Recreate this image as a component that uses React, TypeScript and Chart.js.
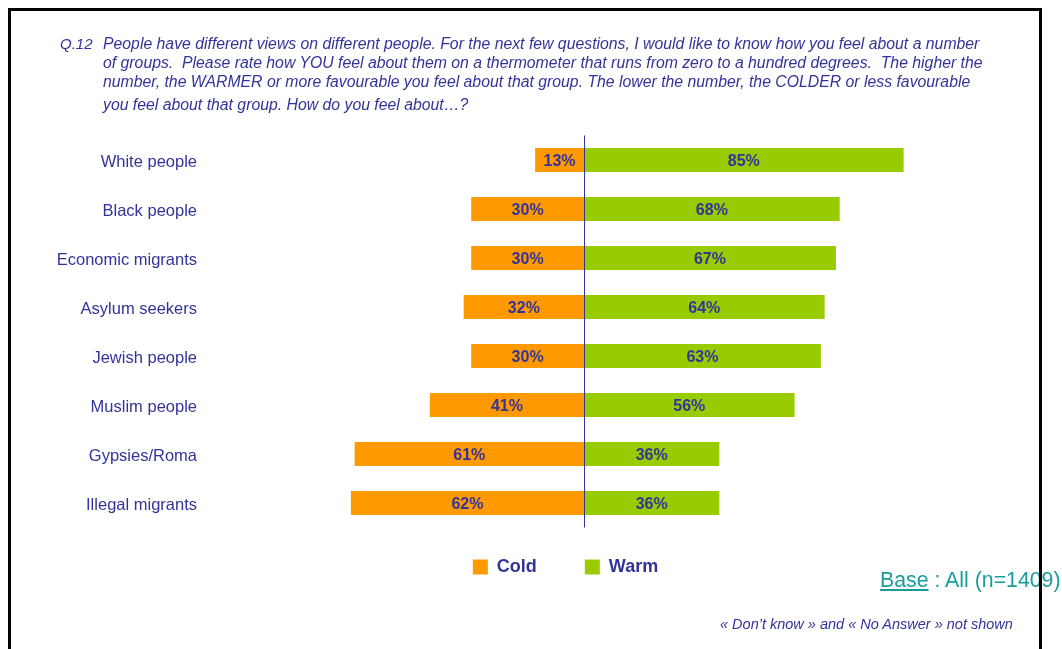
import React, { useEffect, useRef } from "react";
import { Chart, registerables } from "chart.js";

Chart.register(...registerables);

const categories = [
  "White people",
  "Black people",
  "Economic migrants",
  "Asylum seekers",
  "Jewish people",
  "Muslim people",
  "Gypsies/Roma",
  "Illegal migrants",
];
const coldValues = [13, 30, 30, 32, 30, 41, 61, 62];
const warmValues = [85, 68, 67, 64, 63, 56, 36, 36];
const seriesNames = ["Cold", "Warm"];
const questionLabel = "Q.12";
const titleLines = [
  "People have different views on different people. For the next few questions, I would like to know how you feel about a number",
  "of groups.  Please rate how YOU feel about them on a thermometer that runs from zero to a hundred degrees.  The higher the",
  "number, the WARMER or more favourable you feel about that group. The lower the number, the COLDER or less favourable",
  "you feel about that group. How do you feel about\u2026?",
];
const footnote = "\u00ab Don\u2019t know \u00bb and \u00ab No Answer \u00bb not shown";

const FONT = '"Liberation Sans", Arial, Helvetica, sans-serif';
const NAVY = "#333399";
const ORANGE = "#FF9900";
const GREEN = "#99CC00";

const barLabels = {
  id: "barLabels",
  afterDatasetsDraw(chart: any) {
    const ctx = chart.ctx;
    ctx.save();
    ctx.font = `bold 16px ${FONT}`;
    ctx.fillStyle = NAVY;
    ctx.textAlign = "center";
    ctx.textBaseline = "middle";
    chart.data.datasets.forEach((ds: any, di: number) => {
      const meta = chart.getDatasetMeta(di);
      meta.data.forEach((el: any, i: number) => {
        const v = Math.abs(ds.data[i]);
        const cx = (el.x + el.base) / 2;
        ctx.fillText(`${v}%`, cx, el.y + 2);
      });
    });
    ctx.restore();
  },
};

const zeroLine = {
  id: "zeroLine",
  afterDatasetsDraw(chart: any) {
    const { ctx, chartArea } = chart;
    const x = Math.round(chart.scales.x.getPixelForValue(0)) + 0.5;
    ctx.save();
    ctx.strokeStyle = NAVY;
    ctx.lineWidth = 1;
    ctx.beginPath();
    ctx.moveTo(x, chartArea.top);
    ctx.lineTo(x, chartArea.bottom);
    ctx.stroke();
    ctx.restore();
  },
};

const legendShift = {
  id: "legendShift",
  afterLayout(chart: any) {
    const l = chart.legend;
    if (l) {
      l.left = 171;
      l.top -= 17.5;
      l.bottom -= 17.5;
    }
  },
};

export default function App() {
  const ref = useRef<HTMLCanvasElement>(null);

  useEffect(() => {
    const chart = new Chart(ref.current as HTMLCanvasElement, {
      type: "bar",
      data: {
        labels: categories,
        datasets: [
          {
            label: seriesNames[0],
            data: coldValues.map((v) => -v),
            backgroundColor: ORANGE,
            borderWidth: 0,
          },
          {
            label: seriesNames[1],
            data: warmValues,
            backgroundColor: GREEN,
            borderWidth: 0,
          },
        ],
      },
      options: {
        indexAxis: "y",
        responsive: false,
        animation: false,
        devicePixelRatio: 1,
        datasets: {
          bar: { categoryPercentage: 1, barPercentage: 0.49 },
        },
        layout: {
          padding: { left: 20, right: 102, top: 135.5, bottom: 45.5 },
        },
        scales: {
          x: {
            display: false,
            stacked: true,
            min: -100,
            max: 100,
          },
          y: {
            stacked: true,
            grid: { display: false, drawTicks: false },
            border: { display: false },
            ticks: {
              color: NAVY,
              padding: 11,
              labelOffset: 2,
              font: { family: FONT, size: 16.5 },
            },
            afterFit(scale: any) {
              scale.width = 188;
            },
          },
        },
        plugins: {
          legend: {
            position: "bottom",
            labels: {
              boxWidth: 15,
              boxHeight: 15,
              padding: 48,
              color: NAVY,
              font: { family: FONT, size: 18, weight: "bold" },
            },
          },
          tooltip: { enabled: false },
          title: { display: false },
        },
      },
      plugins: [barLabels, zeroLine, legendShift],
    } as any);
    return () => chart.destroy();
  }, []);

  const lineTops = [35, 54, 73, 96];

  return (
    <div
      style={{
        position: "absolute",
        left: 0,
        top: 0,
        width: 1062,
        height: 649,
        overflow: "hidden",
        background: "#ffffff",
        fontFamily: FONT,
      }}
    >
      <canvas
        ref={ref}
        width={1062}
        height={649}
        style={{ position: "absolute", left: 0, top: 0, width: 1062, height: 649 }}
      />
      <div
        style={{
          position: "absolute",
          left: 60,
          top: lineTops[0],
          fontSize: 15,
          lineHeight: "18px",
          fontStyle: "italic",
          color: NAVY,
          whiteSpace: "pre",
        }}
      >
        {questionLabel}
      </div>
      {titleLines.map((t, i) => (
        <div
          key={i}
          style={{
            position: "absolute",
            left: 103,
            top: lineTops[i],
            fontSize: 15.8,
            lineHeight: "18px",
            fontStyle: "italic",
            color: NAVY,
            whiteSpace: "pre",
          }}
        >
          {t}
        </div>
      ))}
      <div
        style={{
          position: "absolute",
          left: 880,
          top: 567,
          fontSize: 21.3,
          lineHeight: "26px",
          color: "#1A9C9C",
          whiteSpace: "pre",
        }}
      >
        <span style={{ textDecoration: "underline" }}>Base</span>
        {" : All (n=1409)"}
      </div>
      <div
        style={{
          position: "absolute",
          left: 720,
          top: 615,
          fontSize: 14.5,
          lineHeight: "18px",
          fontStyle: "italic",
          color: NAVY,
          whiteSpace: "pre",
        }}
      >
        {footnote}
      </div>
      <div
        style={{
          position: "absolute",
          left: 8,
          top: 8,
          width: 1028,
          height: 700,
          borderTop: "3px solid #000",
          borderLeft: "3px solid #000",
          borderRight: "3px solid #000",
        }}
      />
    </div>
  );
}
